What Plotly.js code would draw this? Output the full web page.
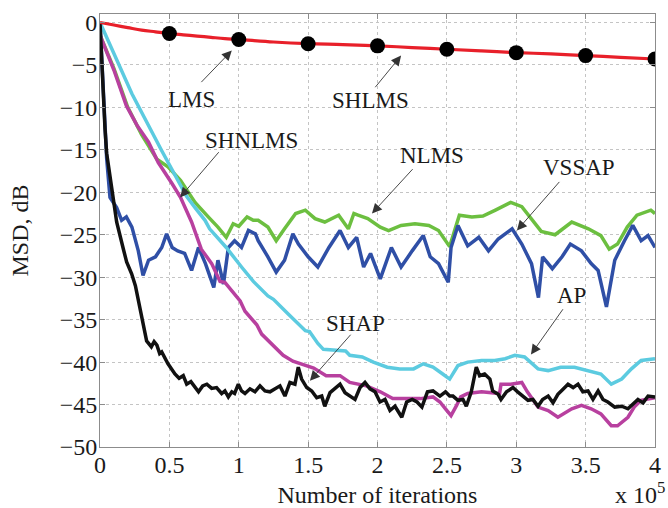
<!DOCTYPE html>
<html>
<head>
<meta charset="utf-8">
<script src="https://cdn.plot.ly/plotly-3.0.1.min.js"></script>
<style>html,body{margin:0;padding:0;background:#fff;}#chart{width:668px;height:508px;}</style>
</head>
<body>
<div id="chart"></div>
<script>
// x in units of 1e5 iterations, y in dB
const lmsX = [0, 0.1, 0.2, 0.3, 0.4, 0.5, 0.6, 0.7, 0.8, 0.9, 1.0, 1.25, 1.5, 1.75, 2.0, 2.25, 2.5, 2.75, 3.0, 3.25, 3.5, 3.75, 4.0];
const lmsY = [0, -0.3, -0.6, -0.9, -1.1, -1.3, -1.45, -1.6, -1.75, -1.9, -2.0, -2.3, -2.5, -2.6, -2.75, -2.95, -3.15, -3.35, -3.55, -3.7, -3.9, -4.1, -4.3];
const shlmsX = [0.5, 1.0, 1.5, 2.0, 2.5, 3.0, 3.5, 4.0];
const shlmsY = [-1.3, -2.0, -2.5, -2.75, -3.15, -3.55, -3.9, -4.3];

const nlmsX = [0, 0.1, 0.2, 0.3, 0.41, 0.49, 0.58, 0.685, 0.78, 0.85, 0.91, 0.96, 1.0, 1.06, 1.105, 1.14, 1.21, 1.27, 1.33, 1.41, 1.48, 1.55, 1.62, 1.69, 1.72, 1.79, 1.83, 1.86, 1.93, 2.02, 2.08, 2.17, 2.27, 2.37, 2.44, 2.52, 2.56, 2.59, 2.68, 2.76, 2.85, 2.96, 3.04, 3.11, 3.18, 3.28, 3.40, 3.52, 3.61, 3.67, 3.73, 3.80, 3.87, 3.97, 4.0];
const nlmsY = [-1.5, -5.4, -10.0, -13.2, -16.1, -17.0, -18.6, -21.2, -22.9, -24.1, -25.3, -23.7, -24.0, -22.9, -23.3, -23.3, -24.1, -25.7, -24.3, -22.5, -22.1, -23.1, -23.5, -22.9, -22.7, -24.3, -22.5, -22.7, -23.1, -24.1, -24.5, -23.9, -23.7, -23.9, -24.5, -26.4, -24.1, -22.7, -22.9, -22.8, -22.1, -21.2, -21.7, -23.2, -24.6, -25.0, -23.5, -24.3, -25.1, -26.7, -26.1, -24.1, -22.7, -22.1, -22.5];

const vssapX = [0, 0.012, 0.024, 0.036, 0.048, 0.072, 0.12, 0.156, 0.19, 0.23, 0.276, 0.31, 0.35, 0.40, 0.445, 0.48, 0.52, 0.56, 0.61, 0.66, 0.71, 0.76, 0.82, 0.85, 0.89, 0.925, 0.97, 1.02, 1.07, 1.12, 1.14, 1.21, 1.27, 1.33, 1.39, 1.43, 1.50, 1.57, 1.65, 1.73, 1.79, 1.85, 1.90, 1.95, 2.02, 2.10, 2.17, 2.25, 2.33, 2.38, 2.44, 2.51, 2.53, 2.58, 2.65, 2.73, 2.80, 2.87, 2.97, 3.04, 3.11, 3.16, 3.19, 3.26, 3.33, 3.39, 3.47, 3.54, 3.59, 3.65, 3.71, 3.78, 3.84, 3.90, 3.95, 4.0];
const vssapY = [0, -4, -9, -13, -16, -20.6, -21.8, -23.3, -22.9, -24.1, -26.9, -29.8, -28.0, -27.6, -26.5, -24.9, -26.5, -26.9, -27.2, -29.2, -26.5, -28.4, -31.2, -28.0, -30.8, -26.5, -25.7, -26.5, -24.5, -24.9, -25.7, -27.6, -29.4, -28.0, -24.9, -26.1, -27.6, -28.8, -26.5, -24.5, -26.5, -25.3, -28.8, -27.2, -30.2, -26.5, -28.8, -26.9, -25.1, -27.6, -28.4, -30.6, -26.5, -23.9, -26.3, -25.3, -26.9, -25.5, -24.3, -26.1, -28.4, -32.4, -27.6, -29.0, -27.6, -26.1, -26.9, -28.4, -29.2, -33.5, -28.0, -25.7, -23.9, -25.7, -25.1, -26.5];

const shnlmsX = [0, 0.1, 0.19, 0.27, 0.35, 0.42, 0.52, 0.58, 0.66, 0.73, 0.805, 0.865, 0.90, 0.97, 1.01, 1.045, 1.13, 1.165, 1.28, 1.32, 1.39, 1.49, 1.54, 1.63, 1.73, 1.80, 1.92, 2.02, 2.11, 2.21, 2.31, 2.40, 2.45, 2.49, 2.53, 2.57, 2.60, 2.65, 2.75, 2.88, 2.89, 2.96, 3.04, 3.08, 3.157, 3.23, 3.30, 3.40, 3.47, 3.54, 3.61, 3.685, 3.73, 3.805, 3.85, 3.90, 4.0];
const shnlmsY = [-1.5, -5.6, -9.8, -12.2, -14.1, -16.5, -19.0, -20.6, -23.5, -26.7, -28.4, -30.5, -30.6, -32.0, -32.8, -34.0, -35.6, -36.7, -38.6, -39.2, -39.9, -40.4, -40.7, -41.6, -41.6, -42.4, -42.8, -43.5, -44.3, -44.3, -44.3, -44.1, -44.7, -45.5, -46.3, -45.1, -44.1, -43.7, -43.5, -43.7, -42.6, -42.6, -42.4, -43.5, -45.3, -45.7, -46.5, -45.5, -45.1, -45.5, -46.1, -47.5, -47.5, -46.5, -45.3, -44.5, -44.2];

const apX = [0, 0.23, 0.445, 0.625, 0.685, 0.757, 0.79, 0.91, 1.02, 1.105, 1.21, 1.25, 1.36, 1.48, 1.51, 1.57, 1.61, 1.67, 1.77, 1.80, 1.89, 1.97, 2.07, 2.16, 2.26, 2.33, 2.40, 2.47, 2.52, 2.58, 2.65, 2.75, 2.845, 2.92, 2.99, 3.06, 3.157, 3.23, 3.32, 3.42, 3.52, 3.61, 3.685, 3.76, 3.83, 3.90, 4.0];
const apY = [0, -8.4, -15.1, -20.5, -21.8, -23.3, -24.3, -26.5, -28.8, -30.5, -32.2, -32.6, -34.4, -36.3, -36.4, -37.8, -38.5, -38.6, -38.7, -39.2, -39.4, -40.0, -40.6, -40.8, -40.8, -40.2, -40.6, -41.4, -42.0, -40.4, -40.0, -39.8, -39.8, -39.6, -39.2, -39.4, -40.8, -41.0, -40.6, -40.6, -41.0, -41.4, -42.6, -42.0, -40.8, -39.8, -39.6];

const shapX = [0, 0.01, 0.024, 0.036, 0.048, 0.072, 0.096, 0.12, 0.144, 0.17, 0.192, 0.228, 0.255, 0.276, 0.30, 0.336, 0.37, 0.39, 0.41, 0.43, 0.445, 0.49, 0.54, 0.57, 0.60, 0.625, 0.655, 0.685, 0.71, 0.74, 0.77, 0.805, 0.84, 0.877, 0.90, 0.925, 0.95, 0.97, 0.997, 1.02, 1.045, 1.081, 1.117, 1.153, 1.189, 1.225, 1.261, 1.297, 1.333, 1.369, 1.405, 1.429, 1.453, 1.49, 1.526, 1.562, 1.598, 1.62, 1.658, 1.694, 1.73, 1.766, 1.802, 1.838, 1.874, 1.91, 1.946, 1.982, 2.018, 2.054, 2.09, 2.126, 2.175, 2.21, 2.25, 2.285, 2.32, 2.36, 2.40, 2.45, 2.49, 2.52, 2.544, 2.58, 2.616, 2.64, 2.676, 2.712, 2.736, 2.772, 2.81, 2.83, 2.87, 2.89, 2.93, 2.976, 3.01, 3.05, 3.085, 3.12, 3.157, 3.19, 3.23, 3.265, 3.30, 3.337, 3.373, 3.41, 3.445, 3.48, 3.517, 3.553, 3.59, 3.625, 3.66, 3.71, 3.76, 3.805, 3.84, 3.877, 3.914, 3.95, 4.0];
const shapY = [0, -4, -9.2, -12.5, -15.4, -18.5, -20.8, -23.5, -25.3, -26.8, -28.2, -29.6, -31.0, -32.7, -34.7, -37.5, -38.2, -37.6, -38.0, -39.0, -38.8, -40.2, -41.4, -41.9, -41.6, -42.6, -42.3, -43.0, -43.5, -42.8, -42.6, -43.1, -43.0, -43.7, -43.4, -44.1, -43.5, -43.7, -42.6, -43.4, -43.7, -43.15, -43.5, -42.8, -43.4, -43.5, -43.15, -42.8, -44.0, -42.4, -42.6, -40.6, -42.0, -43.0, -43.4, -44.2, -44.0, -45.2, -43.6, -43.15, -42.6, -43.6, -44.0, -44.4, -43.0, -42.4, -43.15, -43.5, -44.7, -44.4, -45.7, -45.2, -46.5, -44.7, -44.4, -44.7, -45.3, -43.5, -43.4, -44.0, -43.5, -44.0, -44.0, -44.5, -44.4, -45.2, -43.5, -40.6, -41.6, -41.4, -42.0, -43.4, -43.8, -44.4, -43.5, -43.0, -43.5, -44.0, -44.5, -44.4, -45.2, -44.4, -44.0, -44.8, -43.8, -43.2, -42.6, -43.0, -42.6, -43.5, -43.4, -44.4, -43.4, -44.4, -44.7, -45.3, -45.2, -45.5, -44.9, -44.4, -44.8, -44.0, -44.1];

const xTickVals = [0, 0.5, 1, 1.5, 2, 2.5, 3, 3.5, 4];
const xTickText = ['0', '0.5', '1', '1.5', '2', '2.5', '3', '3.5', '4'];
const yTickVals = [0, -5, -10, -15, -20, -25, -30, -35, -40, -45, -50];

// label text, label position, arrow tail, arrow head (data units)
const labelText = ['LMS', 'SHLMS', 'SHNLMS', 'NLMS', 'VSSAP', 'AP', 'SHAP'];
const labelX = [0.656, 1.946, 1.095, 2.393, 3.452, 3.40, 1.838];
const labelY = [-9.1, -9.2, -13.9, -15.7, -17.1, -32.2, -35.5];
const tailX = [0.72, 1.975, 0.865, 2.263, 3.32, 3.344, 1.816];
const tailY = [-7.2, -7.8, -15.1, -17.1, -18.6, -33.6, -36.6];
const headX = [0.95, 2.17, 0.577, 1.96, 3.005, 3.106, 1.513];
const headY = [-3.3, -3.9, -20.6, -22.5, -24.5, -39.1, -42.2];

const serif = 'Liberation Serif, Times New Roman, serif';
const lw = 3.5;
const traces = [
  {x: nlmsX, y: nlmsY, name: 'NLMS', mode: 'lines', line: {color: '#6cbf40', width: lw}},
  {x: vssapX, y: vssapY, name: 'VSSAP', mode: 'lines', line: {color: '#2f4fa6', width: lw}},
  {x: shnlmsX, y: shnlmsY, name: 'SHNLMS', mode: 'lines', line: {color: '#b8409f', width: lw}},
  {x: apX, y: apY, name: 'AP', mode: 'lines', line: {color: '#5ccbe0', width: lw}},
  {x: shapX, y: shapY, name: 'SHAP', mode: 'lines', line: {color: '#111111', width: lw}},
  {x: lmsX, y: lmsY, name: 'LMS', mode: 'lines', line: {color: '#e8202a', width: 3.2, shape: 'spline'}},
  {x: shlmsX, y: shlmsY, name: 'SHLMS', mode: 'markers', marker: {color: '#000000', size: 15}}
];

const annotations = [];
for (let i = 0; i < labelText.length; i++) {
  annotations.push({x: labelX[i], y: labelY[i], xref: 'x', yref: 'y', text: labelText[i], showarrow: false,
    font: {family: serif, size: 23, color: '#1a1a1a'}});
  annotations.push({x: headX[i], y: headY[i], xref: 'x', yref: 'y', ax: tailX[i], ay: tailY[i], axref: 'x', ayref: 'y',
    text: '', showarrow: true, arrowhead: 2, arrowsize: 2.2, arrowwidth: 0.9, arrowcolor: '#333'});
}
annotations.push({x: 1.02, y: -0.143, xref: 'paper', yref: 'paper', xanchor: 'right', yanchor: 'bottom', borderpad: 0,
  text: 'x 10<sup>5</sup>', showarrow: false, font: {family: serif, size: 24, color: '#1a1a1a'}});

const axisCommon = {
  showline: true, linecolor: '#8c8c8c', linewidth: 1, mirror: 'ticks',
  ticks: 'inside', ticklen: 5, tickcolor: '#8c8c8c',
  showgrid: true, gridcolor: '#c4c4c4', griddash: 'dot', gridwidth: 1,
  zeroline: false, tickfont: {family: serif, size: 24, color: '#1a1a1a'}
};

const layout = {
  width: 668, height: 508,
  margin: {l: 100, r: 13, t: 13.5, b: 61},
  paper_bgcolor: '#ffffff', plot_bgcolor: '#ffffff',
  showlegend: false,
  xaxis: Object.assign({}, axisCommon, {range: [0, 4], tickvals: xTickVals, ticktext: xTickText, ticklabelstandoff: -4,
    title: {text: 'Number of iterations', font: {family: serif, size: 24, color: '#1a1a1a'}, standoff: 12}, automargin: false}),
  yaxis: Object.assign({}, axisCommon, {range: [-50, 1], tickvals: yTickVals, ticklabelstandoff: -3,
    title: {text: 'MSD, dB', font: {family: serif, size: 24, color: '#1a1a1a'}, standoff: 24}, automargin: false}),
  annotations: annotations
};

Plotly.newPlot('chart', traces, layout, {staticPlot: true, displayModeBar: false});
</script>
</body>
</html>
